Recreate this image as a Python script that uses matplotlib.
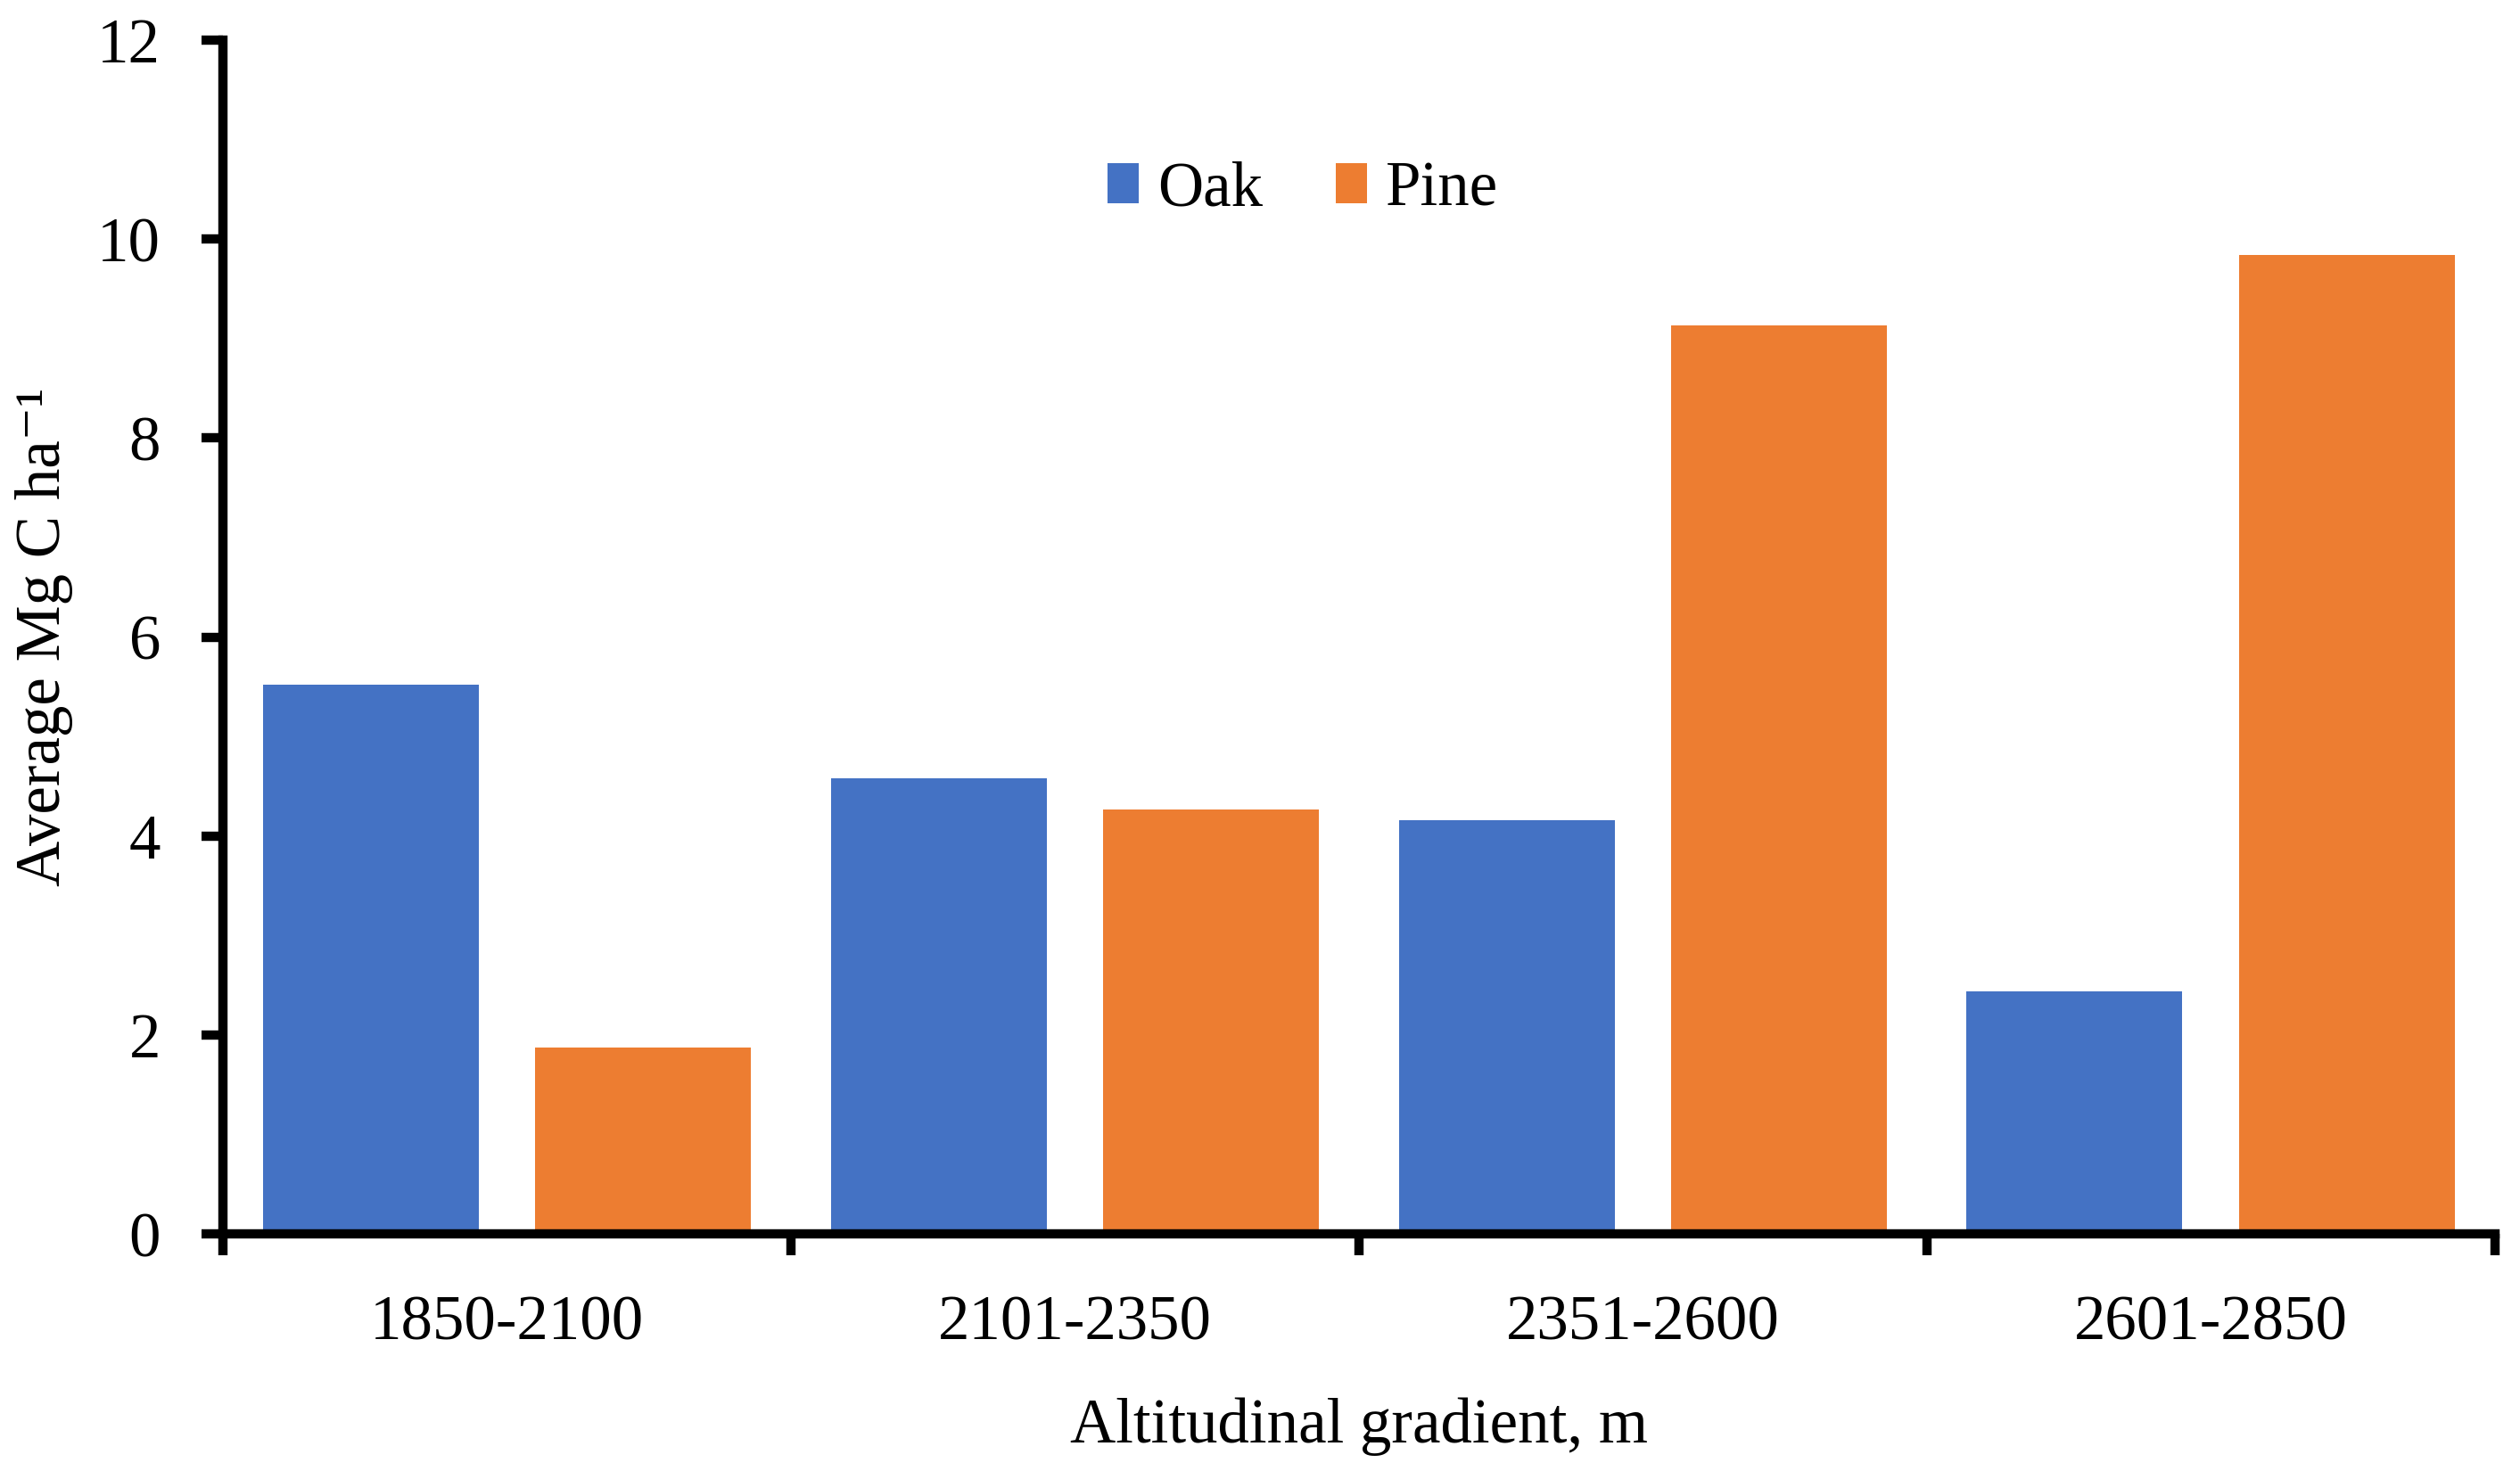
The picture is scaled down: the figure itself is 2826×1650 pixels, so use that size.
import numpy as np
import matplotlib
matplotlib.use("Agg")
import matplotlib.pyplot as plt

plt.rcParams['font.family'] = ['Liberation Serif', 'DejaVu Serif']

# data
categories = ["1850-2100", "2101-2350", "2351-2600", "2601-2850"]
oak = [5.52, 4.58, 4.16, 2.44]
pine = [1.87, 4.27, 9.13, 9.84]

oak_color = "#4472C4"
pine_color = "#ED7D31"
fs = 17
lw = 2.5

fig = plt.figure(figsize=(9.42, 5.5), dpi=300)
ax = fig.add_axes([0.0885, 0.1612, 0.9015, 0.8115])

x = np.arange(len(categories))
ax.bar(x - 0.24, oak, width=0.38, color=oak_color, label="Oak")
ax.bar(x + 0.24, pine, width=0.38, color=pine_color, label="Pine")

ax.set_xlim(-0.5, len(categories) - 0.5)
ax.set_ylim(0, 12)
ax.set_yticks(np.arange(0, 13, 2))

# major ticks between groups, labels on minor ticks at group centres
ax.set_xticks(np.arange(-0.5, len(categories), 1.0))
ax.set_xticklabels([])
ax.set_xticks(x, minor=True)
ax.set_xticklabels(categories, minor=True)

for side in ["top", "right"]:
    ax.spines[side].set_visible(False)
for side in ["left", "bottom"]:
    ax.spines[side].set_linewidth(lw)
    ax.spines[side].set_color("black")

ax.tick_params(axis="both", which="major", direction="out", length=5.8, width=lw,
               labelsize=fs, colors="black")
ax.tick_params(axis="y", which="major", pad=11)
ax.tick_params(axis="x", which="minor", length=0, pad=16.5, labelsize=fs)

ax.set_xlabel("Altitudinal gradient, m", fontsize=fs)
ax.xaxis.set_label_coords(0.5, -0.137)
ax.set_ylabel("Average Mg C ha\u207b\u00b9", fontsize=fs)
ax.yaxis.set_label_coords(-0.066, 0.5)

fig.legend(loc="center", bbox_to_anchor=(0.517, 0.871), ncol=2, frameon=False,
           fontsize=fs, handlelength=0.5, handleheight=0.6, handletextpad=0.3,
           columnspacing=1.15)

fig.savefig("out.png", dpi=300)
